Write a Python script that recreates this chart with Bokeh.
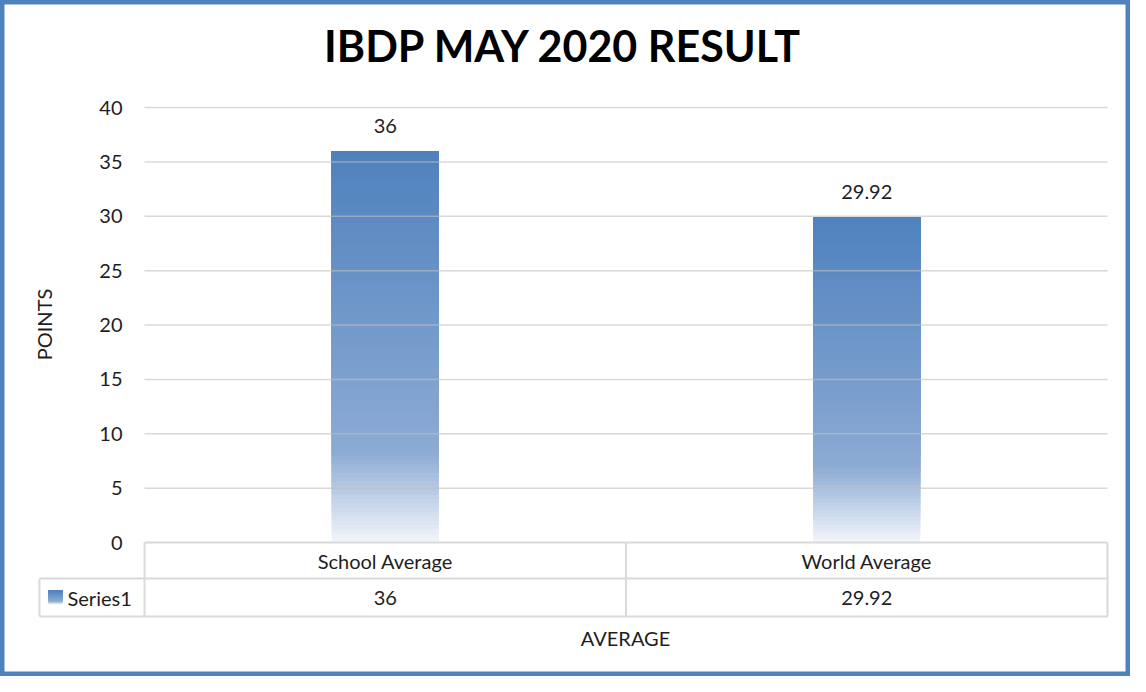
import math
from bokeh.plotting import figure
from bokeh.models import Range1d
from bokeh.embed import file_html
from bokeh.resources import INLINE
from bokeh.core.properties import value

# ---------------- data ----------------
chart_title = "IBDP MAY 2020 RESULT"
categories = ["School Average", "World Average"]
series_name = "Series1"
series_values = [36, 29.92]
value_labels = ["36", "29.92"]
y_ticks = [0, 5, 10, 15, 20, 25, 30, 35, 40]
y_title = "POINTS"
x_title = "AVERAGE"

# ---------------- layout (reference pixels) ----------------
W, H = 1130, 676
OFF = 8
PL, PR, PT, PB = 152, 1115, 115, 550      # plot area
Y_MAX = y_ticks[-1]
ROW1_BOTTOM, ROW2_BOTTOM = 586, 624
LEG_LEFT = 47
FONT = "Lato"
TXT = "#1e1e1e"
GRID = "#D9D9D9"
BLUE_TOP = (79, 129, 189)
BLUE_MID = (141, 171, 212)
BLUE_BOT = (243, 246, 251)
MID_STOP = 0.23
BAR_W = 0.222

n = len(categories)
sx = (PR - PL) / n
sy = (PB - PT) / Y_MAX


def X(px):
    return (px - PL) / sx


def Y(py):
    return (PB - py) / sy


p = figure(width=W, height=H,
           x_range=Range1d(X(OFF), X(OFF + W)),
           y_range=Range1d(Y(OFF + H), Y(OFF)),
           x_axis_location=None, y_axis_location=None,
           title=None, toolbar_location=None, output_backend="svg",
           min_border=0)
p.grid.visible = False
p.outline_line_color = "#4F81BD"
p.outline_line_width = 8
p.background_fill_color = "white"
p.border_fill_color = "white"


def grad_color(f):
    if f < MID_STOP:
        t = f / MID_STOP
        a, b = BLUE_BOT, BLUE_MID
    else:
        t = (f - MID_STOP) / (1 - MID_STOP)
        a, b = BLUE_MID, BLUE_TOP
    return "#%02x%02x%02x" % tuple(int(round(a[i] + (b[i] - a[i]) * t)) for i in range(3))


# ---------------- gradient bars ----------------
N = 90
L, R, B, T, C = [], [], [], [], []
for i, v in enumerate(series_values):
    xc = i + 0.5
    for k in range(N):
        L.append(xc - BAR_W / 2)
        R.append(xc + BAR_W / 2)
        B.append(v * k / N)
        T.append(v)
        C.append(grad_color((k + 0.5) / N))
p.quad(left=L, right=R, bottom=B, top=T, fill_color=C, line_color=None)

# ---------------- gridlines (over bars, like the reference) ----------------
gy = [t for t in y_ticks if t > 0]
p.segment(x0=[0] * len(gy), x1=[n] * len(gy), y0=gy, y1=gy,
          line_color="#BFBFBF", line_alpha=0.6, line_width=1.5)

# ---------------- data table ----------------
r1 = Y(ROW1_BOTTOM)
r2 = Y(ROW2_BOTTOM)
hx0 = [0, X(LEG_LEFT), X(LEG_LEFT)]
hx1 = [n, n, n]
hy = [0, r1, r2]
p.segment(x0=hx0, x1=hx1, y0=hy, y1=hy, line_color=GRID, line_width=2)
vx = list(range(n + 1)) + [X(LEG_LEFT)]
vy0 = [0] * (n + 1) + [r1]
vy1 = [r2] * (n + 2)
p.segment(x0=vx, x1=vx, y0=vy0, y1=vy1, line_color=GRID, line_width=2)

centers = [i + 0.5 for i in range(n)]
p.text(x=centers, y=[(0 + r1) / 2] * n, text=categories, text_align="center",
       text_baseline="middle", text_font=value(FONT), text_font_size="20px", text_color=TXT)
p.text(x=centers, y=[(r1 + r2) / 2] * n, text=value_labels, text_align="center",
       text_baseline="middle", text_font=value(FONT), text_font_size="20px", text_color=TXT)

# legend key in the table
K = 30
kl, kr, kb, kt, kc = [], [], [], [], []
k_top, k_bot = Y(598), Y(612)
for k in range(K):
    kl.append(X(56)); kr.append(X(70))
    kb.append(k_bot + (k_top - k_bot) * k / K); kt.append(k_top)
    kc.append(grad_color((k + 0.5) / K))
p.quad(left=kl, right=kr, bottom=kb, top=kt, fill_color=kc, line_color=None)
p.text(x=[X(75)], y=[(r1 + r2) / 2], text=[series_name], text_align="left",
       text_baseline="middle", text_font=value(FONT), text_font_size="20px", text_color=TXT)

# ---------------- value labels above bars ----------------
p.text(x=centers, y=[v + 25 / sy for v in series_values], text=value_labels,
       text_align="center", text_baseline="middle", text_font=value(FONT),
       text_font_size="20px", text_color=TXT)

# ---------------- y tick labels ----------------
p.text(x=[X(130)] * len(y_ticks), y=y_ticks, text=[str(t) for t in y_ticks],
       text_align="right", text_baseline="middle", text_font=value(FONT),
       text_font_size="20px", text_color=TXT)

# ---------------- axis titles and chart title ----------------
p.text(x=[X(51)], y=[Y(332)], text=[y_title], angle=math.pi / 2,
       text_align="center", text_baseline="middle", text_font=value(FONT),
       text_font_size="20px", text_color=TXT)
p.text(x=[X(633)], y=[Y(645)], text=[x_title], text_align="center",
       text_baseline="middle", text_font=value(FONT), text_font_size="20px", text_color=TXT)
p.text(x=[X(571)], y=[Y(53)], text=[chart_title], text_align="center",
       text_baseline="middle", text_font=value(FONT), text_font_size="43px",
       text_font_style="bold", text_color="#000000")

open("out.html", "w").write(file_html(p, INLINE))
